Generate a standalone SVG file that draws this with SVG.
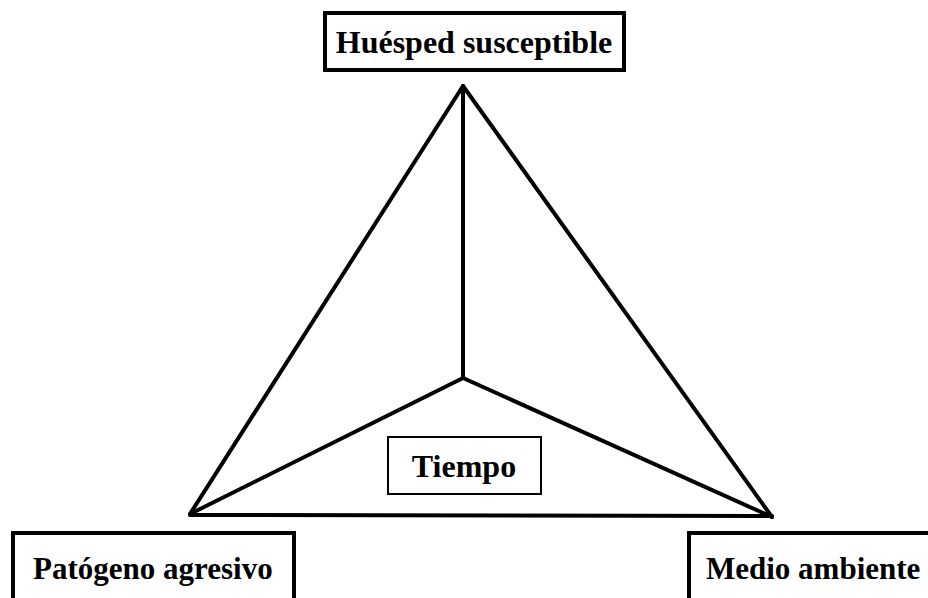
<svg xmlns="http://www.w3.org/2000/svg" width="928" height="598" viewBox="0 0 928 598">
<style>
text{font-family:'Liberation Serif','Times New Roman','DejaVu Serif',serif;font-weight:bold;font-size:32px;fill:#000}
.sm{font-size:31px}
.box{fill:#fff;stroke:#000;stroke-width:4}
.ln{stroke:#000;stroke-width:4;fill:none;stroke-linecap:round}
</style>
<rect width="928" height="598" fill="#fff"/>
<g id="connectors">
<line class="ln" x1="463" y1="86" x2="190" y2="514"/>
<line class="ln" x1="463" y1="86" x2="772" y2="517"/>
<line class="ln" x1="190" y1="515" x2="772" y2="516"/>
<line class="ln" x1="463" y1="86" x2="463" y2="378"/>
<line class="ln" x1="463" y1="378" x2="190" y2="514"/>
<line class="ln" x1="463" y1="378" x2="772" y2="517"/>
</g>
<g id="huesped">
<rect class="box" x="325" y="13" width="299" height="57"/>
<text x="474" y="53" text-anchor="middle">Huésped susceptible</text>
</g>
<g id="tiempo">
<rect x="388" y="437" width="153" height="57" fill="#fff" stroke="#000" stroke-width="2"/>
<text x="464" y="477" text-anchor="middle">Tiempo</text>
</g>
<g id="patogeno">
<path class="box" d="M13 600 V533 H294 V600"/>
<text class="sm" x="33" y="579">Patógeno agresivo</text>
</g>
<g id="medio">
<path class="box" d="M689 600 V533 H932"/>
<text class="sm" x="706" y="579">Medio ambiente</text>
</g>
</svg>
